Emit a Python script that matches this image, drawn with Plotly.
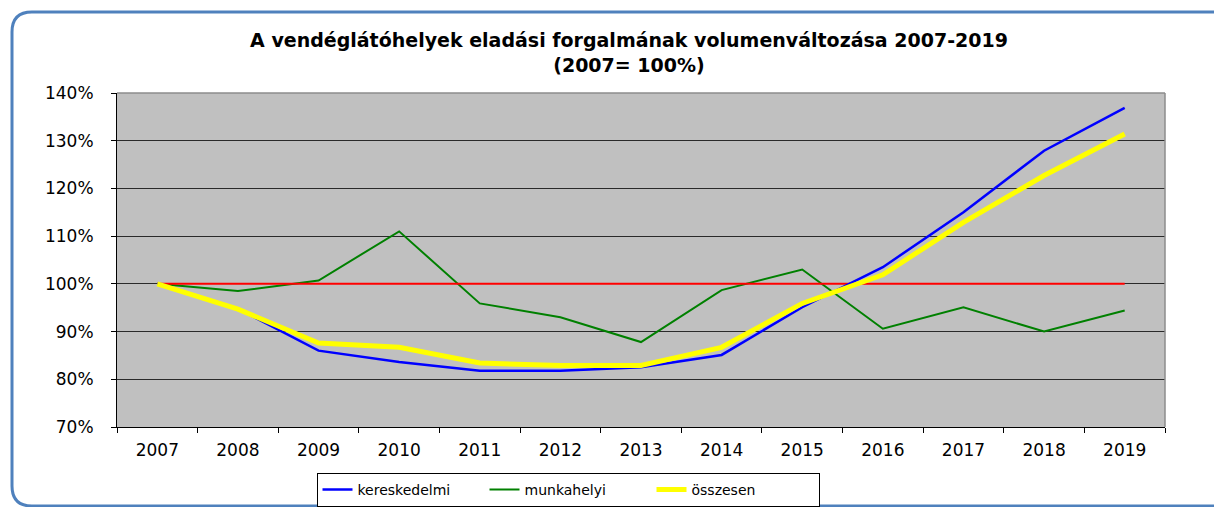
import plotly.graph_objects as go

years = ["2007", "2008", "2009", "2010", "2011", "2012", "2013",
         "2014", "2015", "2016", "2017", "2018", "2019"]
kereskedelmi = [1.000, 0.948, 0.860, 0.836, 0.818, 0.818, 0.825,
                0.851, 0.951, 1.035, 1.150, 1.279, 1.369]
munkahelyi = [1.000, 0.985, 1.007, 1.110, 0.959, 0.930, 0.878,
              0.987, 1.030, 0.906, 0.951, 0.900, 0.944]
osszesen = [1.000, 0.947, 0.876, 0.867, 0.834, 0.829, 0.829,
            0.867, 0.959, 1.019, 1.129, 1.227, 1.314]
bazis = [1.0] * len(years)

title_text = "A vendéglátóhelyek eladási forgalmának volumenváltozása 2007-2019<br>(2007= 100%)"
FONT = "DejaVu Sans, Liberation Sans, Arial, sans-serif"

W, H = 1214, 507
ML, MR, MT, MB = 117, 49, 93, 80
PW, PH = W - ML - MR, H - MT - MB


def px(x):
    return (x - ML) / PW


def py(y):
    return (H - MB - y) / PH


fig = go.Figure()
fig.add_trace(go.Scatter(x=years, y=munkahelyi, name="munkahelyi", mode="lines",
                         line=dict(color="#008000", width=2), legendrank=2))
fig.add_trace(go.Scatter(x=years, y=bazis, name="100%", mode="lines", showlegend=False,
                         line=dict(color="#FF0000", width=2)))
fig.add_trace(go.Scatter(x=years, y=kereskedelmi, name="kereskedelmi", mode="lines",
                         line=dict(color="#0000FF", width=2.5), legendrank=1))
fig.add_trace(go.Scatter(x=years, y=osszesen, name="összesen", mode="lines",
                         line=dict(color="#FFFF00", width=5), legendrank=3))

frame_path = (f"M {px(1240)},{py(506)} L {px(32)},{py(506)} "
              f"Q {px(12)},{py(506)} {px(12)},{py(486)} "
              f"L {px(12)},{py(32)} Q {px(12)},{py(12)} {px(32)},{py(12)} "
              f"L {px(1240)},{py(12)}")

fig.update_layout(
    width=W, height=H,
    margin=dict(l=ML, r=MR, t=MT, b=MB, autoexpand=False),
    paper_bgcolor="white",
    plot_bgcolor="#C0C0C0",
    font=dict(family=FONT, color="#000000", size=16),
    title=dict(text=title_text, x=629 / W, xanchor="center", y=1 - 47 / H, yanchor="top",
               font=dict(family=FONT, size=19, color="#000000", weight="bold")),
    showlegend=True,
    legend=dict(orientation="h", x=px(568), xanchor="center", y=py(473), yanchor="top",
                bgcolor="white", bordercolor="#000000", borderwidth=1,
                font=dict(family=FONT, size=14, color="#000000"),
                traceorder="normal", entrywidth=122, itemwidth=30),
    xaxis=dict(type="category", range=[-0.5, 12.5], tickson="boundaries",
               ticks="outside", ticklen=5,
               tickcolor="#000000", showline=True, linecolor="#000000", linewidth=1,
               showgrid=False, tickfont=dict(size=17), ticklabelstandoff=8, fixedrange=True),
    yaxis=dict(range=[0.7, 1.4], dtick=0.1, tick0=0.7, tickformat=".0%",
               ticks="outside", ticklen=5, tickcolor="#000000",
               showline=True, linecolor="#000000", linewidth=1,
               showgrid=True, gridcolor="#2a2a2a", gridwidth=1,
               zeroline=False, tickfont=dict(size=17), ticklabelstandoff=14),
    shapes=[
        dict(type="line", xref="paper", yref="paper", x0=0, x1=1, y0=1, y1=1,
             line=dict(color="#8c8c8c", width=1.5), layer="above"),
        dict(type="line", xref="paper", yref="paper", x0=1, x1=1, y0=0, y1=1,
             line=dict(color="#8c8c8c", width=1.5), layer="above"),
        dict(type="path", xref="paper", yref="paper", path=frame_path,
             line=dict(color="#4F81BD", width=3), layer="above"),
    ],
)

fig.write_html("out.html", config={"displayModeBar": False},
               post_script="document.body.style.margin='0';document.body.style.overflow='hidden';")
